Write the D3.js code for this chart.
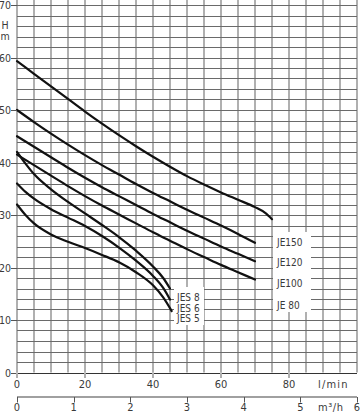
<!DOCTYPE html>
<html><head><meta charset="utf-8">
<script src="https://cdn.jsdelivr.net/npm/d3@7"></script>
<style>
body{margin:0;background:#fff}
svg{display:block}
text{font-family:"Liberation Sans Narrow","DejaVu Sans Condensed",sans-serif;fill:#3a3a3a}
</style>
</head><body>
<svg id="c" width="360" height="412"></svg>
<script>
// ---- data (flow l/min, head m) ----
const flowTicks = [0, 20, 40, 60, 80];
const headTicks = [0, 10, 20, 30, 40, 50, 60, 70];
const m3hTicks  = [0, 1, 2, 3, 4, 5, 6];
const seriesNames = ["JE150", "JE120", "JE100", "JE 80", "JES 8", "JES 6", "JES 5"];
const je150 = [[0,59.3],[5,56.9],[10,54.5],[15,52.1],[20,49.7],[25,47.4],[30,45.2],[35,43.1],[40,41.1],[45,39.2],[50,37.4],[55,35.8],[60,34.3],[65,32.9],[70,31.5],[73,30.4],[75,29.2]];
const je120 = [[0,50.0],[5,47.7],[10,45.5],[15,43.4],[20,41.4],[25,39.5],[30,37.7],[35,35.9],[40,34.2],[45,32.6],[50,31.0],[55,29.5],[60,28.0],[65,26.4],[70,24.7]];
const je100 = [[0,45.0],[5,43.0],[10,41.0],[15,39.0],[20,37.1],[25,35.3],[30,33.6],[35,31.9],[40,30.2],[45,28.6],[50,27.0],[55,25.5],[60,24.0],[65,22.6],[70,21.2]];
const je80  = [[0,41.5],[5,39.5],[10,37.5],[15,35.5],[20,33.6],[25,31.8],[30,30.1],[35,28.4],[40,26.7],[45,25.1],[50,23.5],[55,22.0],[60,20.5],[65,19.1],[70,17.7]];
const jes8  = [[0,42.0],[2.5,39.8],[5,37.8],[10,34.9],[15,32.5],[20,30.3],[25,28.1],[30,25.8],[35,23.2],[40,20.2],[43,18.0],[45,16.0]];
const jes6  = [[0,36.0],[2.5,34.4],[5,33.1],[10,31.1],[15,29.5],[20,27.9],[25,26.0],[30,23.8],[35,21.3],[40,18.4],[43,16.1],[45,13.9]];
const jes5  = [[0,32.0],[2.5,30.0],[5,28.4],[10,26.3],[15,24.9],[20,23.7],[25,22.4],[30,21.0],[35,19.1],[40,16.6],[43,14.3],[45.5,11.7]];
const seriesData = [je150, je120, je100, je80, jes8, jes6, jes5];

// ---- layout ----
const svg = d3.select("#c");
const x = d3.scaleLinear().domain([0, 100]).range([17, 357]);
const y = d3.scaleLinear().domain([0, 70]).range([372.5, 5]);
const xm = d3.scaleLinear().domain([0, 6]).range([17, 357]);
const crisp = v => Math.round(v) + 0.5;

// vertical grid (every 5 l/min)
svg.append("g").selectAll("line").data(d3.range(0, 101, 5)).join("line")
  .attr("x1", d => Math.round(x(d))).attr("x2", d => Math.round(x(d)))
  .attr("y1", 0).attr("y2", y(0))
  .attr("stroke", "#b0b0b0").attr("stroke-width", 2);

// horizontal grid (every 2 m)
svg.append("g").selectAll("line").data(d3.range(0, 71, 2)).join("line")
  .attr("x1", x(0)).attr("x2", x(100))
  .attr("y1", d => crisp(y(d))).attr("y2", d => crisp(y(d)))
  .attr("stroke", d => d === 0 ? "#333" : "#6a6a6a").attr("stroke-width", 1);

// white label panels
svg.append("rect").attr("x", 273).attr("y", 232).attr("width", 38).attr("height", 80).attr("fill", "#fff");
svg.append("rect").attr("x", 174).attr("y", 287).attr("width", 30).attr("height", 38).attr("fill", "#fff");

// curves
const line = d3.line().x(d => x(d[0])).y(d => y(d[1])).curve(d3.curveMonotoneX);
svg.append("g").selectAll("path").data(seriesData).join("path")
  .attr("d", line).attr("fill", "none").attr("stroke", "#111").attr("stroke-width", 2.2)
  .attr("stroke-linecap", "round");

// curve labels
const labelPos = [[277,245.7],[277,266],[277,287.3],[277,308.8],[177,301.4],[177,311.6],[177,322.4]];
svg.append("g").selectAll("text").data(seriesNames).join("text")
  .attr("x", (d, i) => labelPos[i][0]).attr("y", (d, i) => labelPos[i][1])
  .attr("font-size", 10).text(d => d);

// y axis labels + ticks
const yl = svg.append("g");
yl.selectAll("line").data(headTicks).join("line")
  .attr("x1", 11).attr("x2", 17).attr("y1", d => crisp(y(d))).attr("y2", d => crisp(y(d)))
  .attr("stroke", "#555").attr("stroke-width", 1);
yl.selectAll("text").data(headTicks).join("text")
  .attr("x", 11).attr("y", d => y(d) + 4).attr("text-anchor", "end")
  .attr("font-size", 10.5).text(d => d);
svg.append("text").attr("x", 5).attr("y", 28.5).attr("text-anchor", "middle").attr("font-size", 10.5).text("H");
svg.append("text").attr("x", 5).attr("y", 39.5).attr("text-anchor", "middle").attr("font-size", 10.5).text("m");

// x axis (l/min)
const xl = svg.append("g");
xl.selectAll("line").data(flowTicks).join("line")
  .attr("x1", d => Math.round(x(d))).attr("x2", d => Math.round(x(d)))
  .attr("y1", y(0)).attr("y2", 378).attr("stroke", "#b0b0b0").attr("stroke-width", 2);
xl.selectAll("text").data(flowTicks).join("text")
  .attr("x", d => x(d)).attr("y", 387.5).attr("text-anchor", "middle")
  .attr("font-size", 11).text(d => d);
svg.append("text").attr("x", 318).attr("y", 387.5).attr("font-size", 11)
  .attr("letter-spacing", 1.2).text("l/min");

// second axis (m³/h)
svg.append("line").attr("x1", xm(0)).attr("x2", xm(6)).attr("y1", 397).attr("y2", 397)
  .attr("stroke", "#a0a0a0").attr("stroke-width", 1.8);
const ml = svg.append("g");
ml.selectAll("line").data(m3hTicks).join("line")
  .attr("x1", d => Math.round(xm(d)) + 0.5).attr("x2", d => Math.round(xm(d)) + 0.5)
  .attr("y1", 397).attr("y2", 402.5).attr("stroke", "#555").attr("stroke-width", 1);
ml.selectAll("text").data(m3hTicks).join("text")
  .attr("x", d => xm(d)).attr("y", 410.5).attr("text-anchor", "middle")
  .attr("font-size", 11).text(d => d);
svg.append("text").attr("x", 318).attr("y", 410.5).attr("font-size", 11)
  .attr("letter-spacing", 0.6).text("m³/h");
</script>
</body></html>
